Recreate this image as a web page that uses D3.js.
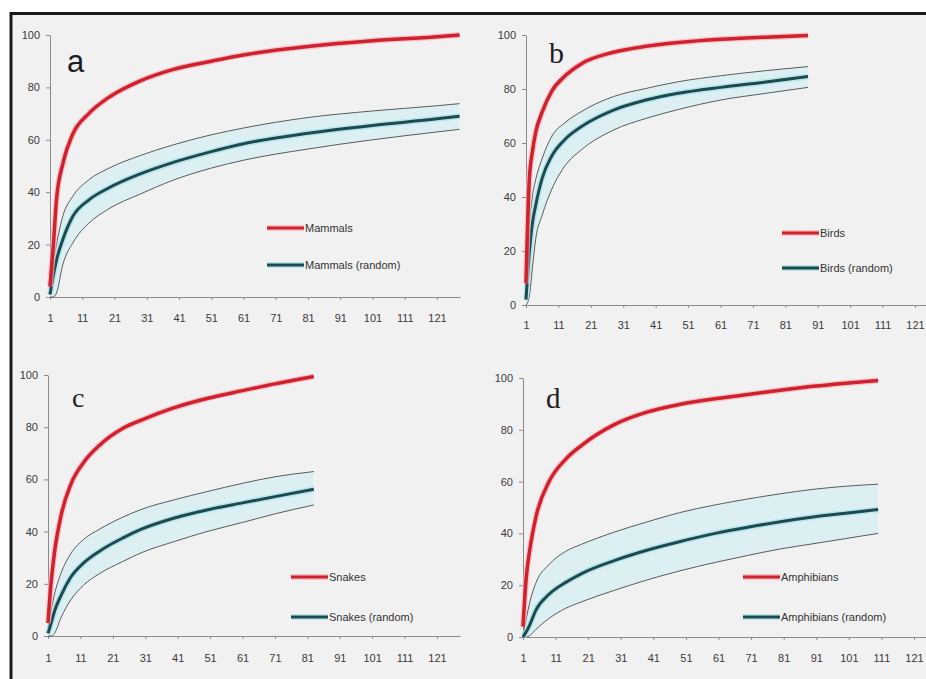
<!DOCTYPE html>
<html>
<head>
<meta charset="utf-8">
<script src="https://cdn.jsdelivr.net/npm/d3@7"></script>
<style>
  body { margin: 0; background: #fff; overflow: hidden; }
  svg { display: block; }
</style>
</head>
<body>
<div id="visual-container"></div>
<script>
const width = 926
const height = 679

const yTicks = [0, 20, 40, 60, 80, 100]
const xTicks = [1, 11, 21, 31, 41, 51, 61, 71, 81, 91, 101, 111, 121]

// a - mammals
const mammalSteps = [1, 2, 3, 5, 8, 13, 19, 29, 39, 51, 61, 81, 101, 121, 128]
const mammals = [4, 19, 37, 51, 62, 70, 76, 82.5, 86.8, 90, 92.4, 95.6, 97.8, 99.3, 100]
const mammalsMean = [1, 8, 14, 22, 30.6, 37, 41.5, 47, 51.3, 55.5, 58.5, 62.5, 65.5, 68, 69]
const mammalsUpper = [3, 13, 20, 31, 38.3, 44.7, 49, 54, 58, 61.9, 64.5, 68.5, 71, 73, 73.8]
const mammalsLower = [0, 0, 1.5, 12.5, 20.5, 28.1, 33.5, 39.3, 44.5, 49.2, 52.2, 56.5, 60, 63, 64]

// b - birds
const birdSteps = [1, 2, 3, 4, 6, 9, 13, 18, 28, 38, 48, 61, 75, 88]
const birds = [8, 46, 57, 64, 71.5, 79.3, 84.8, 89.3, 93.6, 95.8, 97.2, 98.4, 99.2, 99.8]
const birdsMean = [2, 19, 30.5, 37, 47, 55.3, 61.3, 66, 72.2, 75.9, 78.4, 80.6, 82.6, 84.6]
const birdsUpper = [5, 29, 40.5, 46.5, 54.3, 62.6, 67.5, 71.6, 77.2, 80.2, 82.7, 84.9, 86.8, 88.3]
const birdsLower = [0, 3, 14, 24.5, 33.3, 43, 51.5, 57.4, 64.8, 69.1, 72.4, 75.9, 78.4, 80.6]

// c - snakes
const snakeSteps = [1, 2, 3, 5, 8, 12, 17, 24, 30, 40, 50, 61, 71, 83]
const snakes = [5, 21, 32, 46, 58, 66.5, 73.2, 79.5, 82.8, 87.5, 91, 94, 96.6, 99.4]
const snakesMean = [1, 5, 9.5, 15.5, 22.5, 28, 32.6, 37.5, 41, 45.2, 48.3, 51, 53.4, 56.2]
const snakesUpper = [3, 10, 16, 24, 31.5, 37, 41, 45.5, 48.6, 52.2, 55.3, 58.5, 61, 63]
const snakesLower = [0, 0, 1, 7, 13.8, 19.5, 24, 28.5, 32, 36.2, 40, 43.5, 46.8, 50.2]

// d - amphibians
const amphibianSteps = [1, 2, 3, 5, 9, 14, 19, 29, 39, 49, 60, 70, 80, 90, 100, 110]
const amphibians = [4, 23, 33, 46.5, 60, 68.5, 74, 82, 86.8, 89.8, 92, 93.6, 95.3, 96.8, 98, 99]
const amphibiansMean = [0, 2, 4.5, 10.5, 16.5, 21, 24.5, 29.5, 33.5, 36.8, 40, 42.4, 44.5, 46.3, 47.8, 49.2]
const amphibiansUpper = [1, 7, 13, 21, 28, 33, 35.8, 40.5, 44.4, 48, 51, 53.3, 55.3, 57, 58.2, 59]
const amphibiansLower = [0, 0, 0.5, 3, 7.2, 11, 13.6, 18, 22, 25.5, 28.8, 31.5, 34, 36, 38, 40]

const panels = [
  { letter: 'a', name: 'Mammals', steps: mammalSteps, obs: mammals, mean: mammalsMean, upper: mammalsUpper, lower: mammalsLower,
    x0: 50, x121: 437, xEnd: 460, yTop: 35, yBottom: 297, labelGap: 21,
    letterX: 67, letterY: 72, letterFont: 'Liberation Sans', letterSize: 31, legendX: 267, legendY: [228, 265] },
  { letter: 'b', name: 'Birds', steps: birdSteps, obs: birds, mean: birdsMean, upper: birdsUpper, lower: birdsLower,
    x0: 526, x121: 915, xEnd: 926, yTop: 35, yBottom: 305, labelGap: 20,
    letterX: 549, letterY: 63, letterFont: 'Liberation Serif', letterSize: 30, legendX: 782, legendY: [233, 268] },
  { letter: 'c', name: 'Snakes', steps: snakeSteps, obs: snakes, mean: snakesMean, upper: snakesUpper, lower: snakesLower,
    x0: 48, x121: 437, xEnd: 460, yTop: 375, yBottom: 636, labelGap: 22,
    letterX: 72, letterY: 407, letterFont: 'Liberation Serif', letterSize: 28, legendX: 291, legendY: [577, 617] },
  { letter: 'd', name: 'Amphibians', steps: amphibianSteps, obs: amphibians, mean: amphibiansMean, upper: amphibiansUpper, lower: amphibiansLower,
    x0: 523, x121: 914, xEnd: 926, yTop: 378, yBottom: 637, labelGap: 21,
    letterX: 546, letterY: 408, letterFont: 'Liberation Serif', letterSize: 29, legendX: 743, legendY: [577, 617] }
]

const container = document.getElementById('visual-container')
const svg = d3.select(container)
  .append('svg')
  .attr('width', width)
  .attr('height', height)

// page background and black frame
svg.append('rect').attr('x', 11).attr('y', 13).attr('width', width - 11).attr('height', height - 13).attr('fill', '#f1f1f1')
svg.append('path')
  .attr('d', `M11,${height} L11,13.5 L${width},13.5`)
  .attr('fill', 'none')
  .attr('stroke', '#1a1a1a')
  .attr('stroke-width', 3)

const drawPanel = (p) => {
  const g = svg.append('g')

  const xMax = 1 + 120 * (p.xEnd - p.x0) / (p.x121 - p.x0)
  const xScale = d3.scaleLinear().domain([1, xMax]).range([p.x0, p.xEnd])
  const yScale = d3.scaleLinear().domain([0, 100]).range([p.yBottom, p.yTop])

  const rows = p.steps.map((s, i) => ({ s: s, obs: p.obs[i], mean: p.mean[i], upper: p.upper[i], lower: p.lower[i] }))

  const area = d3.area()
    .x(d => xScale(d.s))
    .y0(d => yScale(d.lower))
    .y1(d => yScale(d.upper))
    .curve(d3.curveMonotoneX)
  const line = key => d3.line()
    .x(d => xScale(d.s))
    .y(d => yScale(d[key]))
    .curve(d3.curveMonotoneX)

  // axes
  const yAxis = d3.axisLeft(yScale).tickValues(yTicks).tickSize(4).tickPadding(6).tickSizeOuter(0)
  const xAxis = d3.axisBottom(xScale).tickValues(xTicks).tickSize(3).tickPadding(p.labelGap - 7).tickSizeOuter(0)

  const ya = g.append('g').attr('transform', `translate(${p.x0},0)`).call(yAxis)
  const xa = g.append('g').attr('transform', `translate(0,${p.yBottom})`).call(xAxis)
  ;[ya, xa].forEach(a => {
    a.selectAll('path, line').attr('stroke', '#8a8a8a')
    a.selectAll('text')
      .attr('fill', '#3a3a3a')
      .style('font-family', 'Liberation Sans, Arial, sans-serif')
      .style('font-size', '11px')
  })

  // confidence band
  g.append('path').datum(rows).attr('d', area).attr('fill', '#dcf0f4')
  g.append('path').datum(rows).attr('d', line('upper')).attr('fill', 'none').attr('stroke', '#5a5a5a').attr('stroke-width', 1)
  g.append('path').datum(rows).attr('d', line('lower')).attr('fill', 'none').attr('stroke', '#5a5a5a').attr('stroke-width', 1)

  // random mean
  g.append('path').datum(rows).attr('d', line('mean')).attr('fill', 'none').attr('stroke', '#a6e0ea').attr('stroke-width', 6).attr('opacity', 0.7)
  g.append('path').datum(rows).attr('d', line('mean')).attr('fill', 'none').attr('stroke', '#1d4a4e').attr('stroke-width', 3)

  // observed
  g.append('path').datum(rows).attr('d', line('obs')).attr('fill', 'none').attr('stroke', '#f5b0b6').attr('stroke-width', 6).attr('opacity', 0.7)
  g.append('path').datum(rows).attr('d', line('obs')).attr('fill', 'none').attr('stroke', '#d1202e').attr('stroke-width', 3.5)

  // panel letter
  g.append('text')
    .attr('x', p.letterX)
    .attr('y', p.letterY)
    .style('font-family', p.letterFont)
    .style('font-size', p.letterSize + 'px')
    .attr('fill', '#1e1e1e')
    .text(p.letter)

  // legend
  const items = [
    { text: p.name, color: '#d1202e', halo: '#f5b0b6' },
    { text: p.name + ' (random)', color: '#1d4a4e', halo: '#a6e0ea' }
  ]
  items.forEach((it, i) => {
    const ly = p.legendY[i]
    g.append('line').attr('x1', p.legendX).attr('x2', p.legendX + 37).attr('y1', ly).attr('y2', ly)
      .attr('stroke', it.halo).attr('stroke-width', 6).attr('opacity', 0.7)
    g.append('line').attr('x1', p.legendX).attr('x2', p.legendX + 37).attr('y1', ly).attr('y2', ly)
      .attr('stroke', it.color).attr('stroke-width', 3)
    g.append('text')
      .attr('x', p.legendX + 38)
      .attr('y', ly + 4)
      .style('font-family', 'Liberation Sans, Arial, sans-serif')
      .style('font-size', '11px')
      .attr('fill', '#333')
      .text(it.text)
  })
}

panels.forEach(drawPanel)
</script>
</body>
</html>
